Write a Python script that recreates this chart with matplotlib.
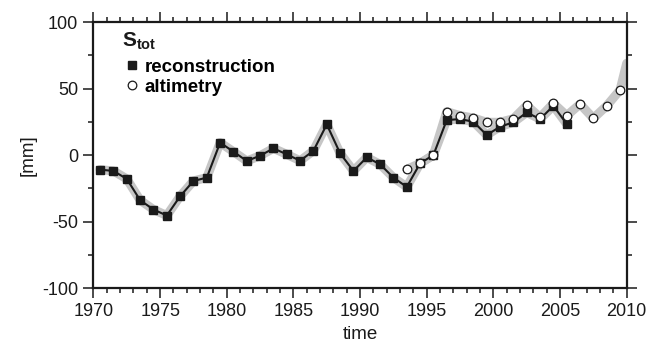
import matplotlib
matplotlib.use('Agg')
import matplotlib.pyplot as plt
from matplotlib.lines import Line2D
from matplotlib.ticker import MultipleLocator

plt.rcParams['font.family'] = ['Liberation Sans', 'DejaVu Sans']
plt.rcParams['axes.unicode_minus'] = False
plt.rcParams['mathtext.fontset'] = 'custom'
plt.rcParams['mathtext.rm'] = 'Liberation Sans'
plt.rcParams['mathtext.bf'] = 'Liberation Sans:bold'

# reconstruction (yearly, mid-year)
rec_years = [1970.5, 1971.5, 1972.5, 1973.5, 1974.5, 1975.5, 1976.5, 1977.5,
             1978.5, 1979.5, 1980.5, 1981.5, 1982.5, 1983.5, 1984.5, 1985.5,
             1986.5, 1987.5, 1988.5, 1989.5, 1990.5, 1991.5, 1992.5, 1993.5,
             1994.5, 1995.5, 1996.5, 1997.5, 1998.5, 1999.5, 2000.5, 2001.5,
             2002.5, 2003.5, 2004.5, 2005.5]
rec_vals = [-11, -12, -18, -34, -41, -45.5, -31, -19.5,
            -17, 9.3, 2.5, -4.5, -0.5, 5, 0.5, -4.3,
            3.2, 23, 1.3, -12, -1.8, -7, -17, -24,
            -6.3, 0, 26.3, 27, 25, 15, 21.3, 24.6,
            32, 27, 37, 23.3]

# altimetry
alt_years = [1993.5, 1994.5, 1995.5, 1996.5, 1997.5, 1998.5, 1999.5, 2000.5,
             2001.5, 2002.5, 2003.5, 2004.5, 2005.5, 2006.5, 2007.5, 2008.5,
             2009.5]
alt_vals = [-10.8, -6.3, 0, 32.6, 29.6, 27.8, 24.6, 24.6,
            27.3, 37.3, 28.3, 38.8, 29.6, 38.3, 27.6, 37,
            48.9]
# gray altimetry band runs on to the end of 2010
alt_band_end_year = 2010.0
alt_band_end_val = 69

band_gray = '#c6c6c6'

fig = plt.figure(figsize=(6.57, 3.46), dpi=100)
ax = fig.add_axes([0.1423, 0.1676, 0.8116, 0.7688])

# uncertainty bands
ax.plot(rec_years, rec_vals, color=band_gray, lw=6.5, solid_joinstyle='round',
        solid_capstyle='round', zorder=1)
ax.plot(alt_years + [alt_band_end_year], alt_vals + [alt_band_end_val],
        color=band_gray, lw=6.5, solid_joinstyle='round',
        solid_capstyle='round', zorder=1)

# series
ax.plot(rec_years, rec_vals, color='#1a1a1a', lw=1.5, zorder=2)
ax.plot(rec_years, rec_vals, ls='none', marker='s', ms=5.6,
        mfc='#1a1a1a', mec='#1a1a1a', zorder=3)
ax.plot(alt_years, alt_vals, ls='none', marker='o', ms=6.2,
        mfc='white', mec='#1a1a1a', mew=0.9, zorder=4)

ax.set_xlim(1970, 2010)
ax.set_ylim(-100, 100)
ax.xaxis.set_major_locator(MultipleLocator(5))
ax.xaxis.set_minor_locator(MultipleLocator(1))
ax.yaxis.set_major_locator(MultipleLocator(50))
ax.yaxis.set_minor_locator(MultipleLocator(25))
ax.tick_params(which='both', direction='out', top=True, right=True,
               labeltop=False, labelright=False, width=1.1, color='#1a1a1a',
               labelsize=13, labelcolor='#1a1a1a')
ax.tick_params(which='major', length=7.5, pad=3.5)
ax.tick_params(which='minor', length=3.8)
for s in ax.spines.values():
    s.set_linewidth(1.6)
    s.set_color('#1a1a1a')

ax.set_xlabel('time', fontsize=13.5, color='#1a1a1a', labelpad=4)
ax.set_ylabel('[mm]', fontsize=13.5, color='#1a1a1a', labelpad=4)

# legend
ax.text(0.0535, 0.91, r'$\mathbf{S}_{\mathbf{tot}}$', transform=ax.transAxes,
        fontsize=15, va='baseline', ha='left', color='#1a1a1a')
handles = [Line2D([], [], ls='none', marker='s', ms=5.6, mfc='#1a1a1a', mec='#1a1a1a'),
           Line2D([], [], ls='none', marker='o', ms=6.2, mfc='white', mec='#1a1a1a', mew=0.9)]
ax.legend(handles, ['reconstruction', 'altimetry'], loc='upper left',
          bbox_to_anchor=(0.062, 0.862), frameon=False, borderaxespad=0,
          borderpad=0, handlelength=0.6, handletextpad=0.35, labelspacing=0.15,
          prop={'weight': 'bold', 'size': 13.5})

fig.savefig('out.png', dpi=100, facecolor='white')
